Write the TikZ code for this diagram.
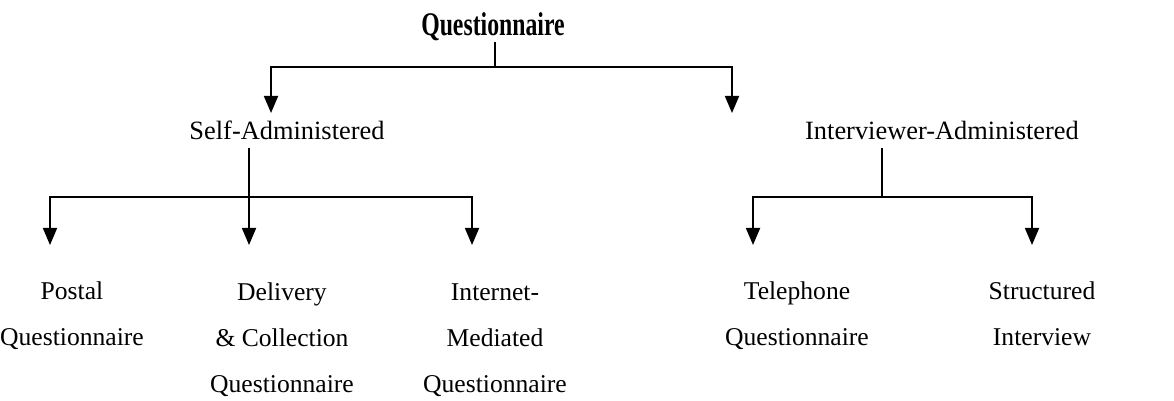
\documentclass[tikz,border=0pt]{standalone}
\usepackage{fontspec}
\setmainfont{Liberation Serif}
\newfontfamily\titlefont[FakeStretch=0.72]{Liberation Serif}
\usetikzlibrary{arrows.meta}
\tikzset{
qtitle/.style = {font=\titlefont\bfseries\fontsize{16.5}{20}\selectfont, inner sep=0pt},
branch/.style = {font=\fontsize{13.2}{23}\selectfont, inner sep=0pt, outer sep=4pt},
leaf/.style = {font=\fontsize{12.8}{23}\selectfont, align=center, inner sep=0pt},
tip/.style = {coordinate}
}

\begin{document}
\begin{tikzpicture}[x=0.5pt, y=-0.5pt, line width=0.9pt, >={Triangle[width=7pt,length=8.5pt]}]
    \useasboundingbox (0,0) rectangle (1174,401);
    % We start by placing the blocks
    \node [qtitle, anchor=base] (quest) at (493,36) {Questionnaire};
    \node [branch, anchor=base] (self) at (287,140) {Self-Administered};
    \node [branch, anchor=base] (inter) at (942,140) {Interviewer-Administered};
    % (base of a leaf = base of its last line)
    \node [leaf, anchor=base] (postal) at (72,345) {Postal\\Questionnaire};
    \node [leaf, anchor=base] (deliv) at (282,392) {Delivery\\\& Collection\\Questionnaire};
    \node [leaf, anchor=base] (inet) at (495,392) {Internet-\\Mediated\\Questionnaire};
    \node [leaf, anchor=base] (phone) at (797,345) {Telephone\\Questionnaire};
    \node [leaf, anchor=base] (struct) at (1042,345) {Structured\\Interview};

    % junctions and arrow tips
    \coordinate (qjoin) at (495,67);
    \coordinate (sjoin) at (249,197);
    \coordinate (ijoin) at (882,197);
    \node [tip] (selftip) at (271,113) {};
    \node [tip] (intertip) at (732,113) {};
    \node [tip] (postaltip) at (50,245) {};
    \node [tip] (delivtip) at (249,245) {};
    \node [tip] (inettip) at (472,245) {};
    \node [tip] (phonetip) at (753,245) {};
    \node [tip] (structtip) at (1032,245) {};

    % Once the nodes are placed, connecting them is easy.
    \draw (quest.south -| qjoin) -- (qjoin);
    \draw [->] (qjoin) -| (selftip);
    \draw [->] (qjoin) -| (intertip);
    \draw [->] (self.south -| sjoin) -- (delivtip);
    \draw [->] (sjoin) -| (postaltip);
    \draw [->] (sjoin) -| (inettip);
    \draw (inter.south -| ijoin) -- (ijoin);
    \draw [->] (ijoin) -| (phonetip);
    \draw [->] (ijoin) -| (structtip);
\end{tikzpicture}
\end{document}
